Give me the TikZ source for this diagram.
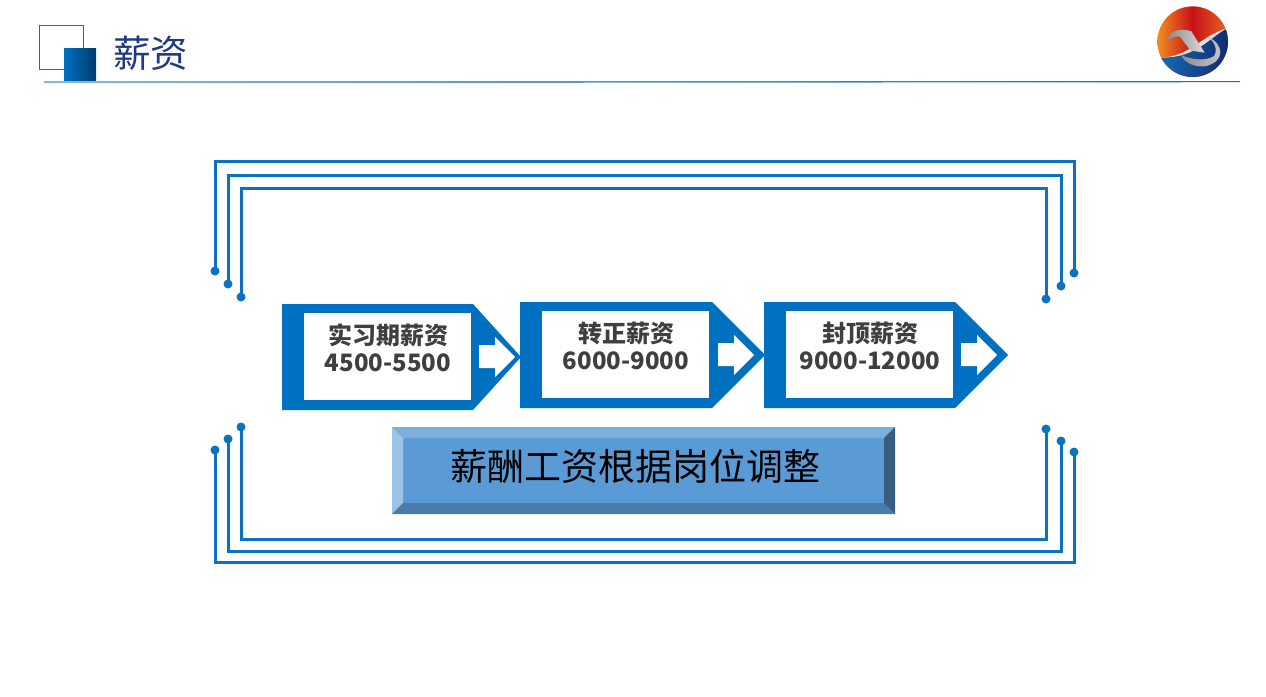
\documentclass[tikz,border=0pt]{standalone}
\usepackage{fontspec}
\usepackage{xcolor}
\setmainfont{Noto Sans CJK SC}
\usetikzlibrary{positioning,calc}
\definecolor{tagblue}{HTML}{0070C0}
\definecolor{wireblue}{HTML}{0A72C0}
\definecolor{titleblue}{HTML}{1F3A80}
\definecolor{salarytext}{HTML}{403F3D}
\definecolor{bevelface}{HTML}{5B9BD5}
\definecolor{framelinecol}{HTML}{1F6CA8}
\definecolor{squaredark}{HTML}{003B6F}
\definecolor{logoorange}{HTML}{F39020}
\definecolor{logored}{HTML}{C8101A}
\definecolor{logoflame}{HTML}{E8681F}
\definecolor{logoblue}{HTML}{1570B8}
\definecolor{logonavy}{HTML}{12286F}
\begin{document}
\begin{tikzpicture}[x=1pt,y=-1pt,
    wire/.style={draw=wireblue, line width=3pt},
    pindot/.style={circle, fill=wireblue, inner sep=0pt, minimum size=9pt},
    salary/.style={rectangle, fill=white, minimum width=167pt, minimum height=87pt, inner sep=0pt},
    salarytxt/.style={inner sep=0pt, align=center, text=salarytext, font=\fontsize{24}{27}\selectfont\bfseries}]
    \useasboundingbox (0,0) rectangle (1266,696);

    % Header
    \draw [draw=framelinecol, line width=1.2pt] (39.5,25.5) rectangle (83.5,69.5);
    \shade [left color=tagblue, right color=squaredark] (64,48) rectangle (96,80);
    \node [text=titleblue, font=\fontsize{37.5}{37.5}\selectfont, inner sep=0pt] (title) at (150.5,53) {薪资};
    \shade [left color=wireblue!50!white, right color=wireblue] (44,81) -- (1240,81) -- (1240,82.2) -- (44,83.2) -- cycle;

    % Logo
    \begin{scope}[shift={(1120,0)}, x=0.3333pt, y=-0.3333pt]
        \clip (218,125) circle [radius=106];
        \shade [left color=logoorange, right color=logoflame, middle color=logored] (110,10) rectangle (326,240);
        \shade [left color=logoblue, right color=logonavy] (100,172) .. controls (190,185) and (240,120) .. (335,80) -- (335,240) -- (100,240) -- cycle;
        \fill [white!88!black] (125,172) .. controls (205,172) and (240,110) .. (322,84) .. controls (270,112) and (225,176) .. (125,172) -- cycle;
        \shade [left color=white!55!black, right color=white!80!black] (262,110) .. controls (312,130) and (318,185) .. (255,199) .. controls (225,202) and (195,190) .. (183,165) .. controls (215,180) and (258,184) .. (282,168) .. controls (294,150) and (285,125) .. (262,110) -- cycle;
        \shade [left color=white!55!black, right color=white!85!black] (143,122) .. controls (145,95) and (175,82) .. (214,94) -- (254,158) -- (212,152) -- (180,110) .. controls (168,106) and (155,112) .. (143,122) -- cycle;
    \end{scope}

    % Wires round the salary tags
    \foreach \name/\xl/\xr/\yl/\yr/\ya/\yb/\yc/\yd in {a/215/1074/271/273/161/450/452/562,
                                                       b/228/1061/284/286/175/439/441/551,
                                                       c/241/1046/297/299/188/427/429/539} {
        \node [pindot] (tl\name) at (\xl,\yl) {};
        \node [pindot] (tr\name) at (\xr,\yr) {};
        \node [pindot] (bl\name) at (\xl,\yb) {};
        \node [pindot] (br\name) at (\xr,\yc) {};
        \coordinate (top\name) at (640,\ya);
        \coordinate (bot\name) at (640,\yd);
        \draw [wire] (tl\name.center) |- (top\name) -| (tr\name.center);
        \draw [wire] (bl\name.center) |- (bot\name) -| (br\name.center);
    }

    % Salary tags
    \foreach \name/\x/\y/\shoulder/\tipx/\txt in {trial/282/304/473/521/实习期薪资\\4500-5500,
                                                  regular/520/302/712/765/转正薪资\\6000-9000,
                                                  cap/764/302/955/1008/封顶薪资\\9000-12000} {
        \fill [tagblue] (\x,\y) -- (\shoulder,\y) -- (\tipx,\y+53) -- (\shoulder,\y+106) -- (\x,\y+106) -- cycle;
        \node [salary] (\name) at (\x+105.5,\y+52.5) {};
        \node [salarytxt] (\name txt) at (\x+106,\y+43.5) {\txt};
        \fill [white] (\shoulder+6,\y+41) -- (\shoulder+22,\y+41) -- (\shoulder+22,\y+33) -- (\shoulder+42,\y+53) -- (\shoulder+22,\y+73) -- (\shoulder+22,\y+64) -- (\shoulder+6,\y+64) -- cycle;
    }

    % Bevelled note
    \fill [bevelface] (392,427) rectangle (895,514);
    \fill [bevelface!80!white] (392,427) -- (895,427) -- (884,438) -- (403,438) -- cycle;
    \fill [bevelface!60!white] (392,427) -- (403,438) -- (403,503) -- (392,514) -- cycle;
    \fill [bevelface!80!black] (392,514) -- (403,503) -- (884,503) -- (895,514) -- cycle;
    \fill [bevelface!60!black] (895,427) -- (884,438) -- (884,503) -- (895,514) -- cycle;
    \node [font=\fontsize{37}{37}\selectfont, inner sep=0pt] (note) at (635.5,466) {薪酬工资根据岗位调整};
\end{tikzpicture}
\end{document}
